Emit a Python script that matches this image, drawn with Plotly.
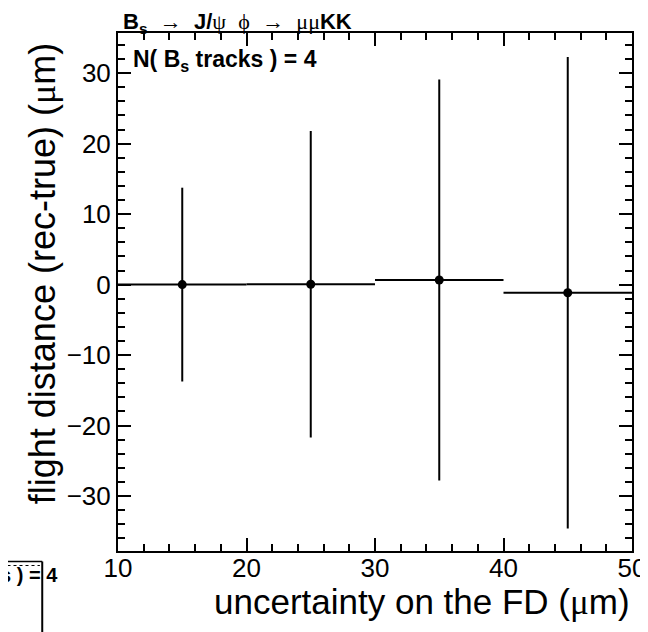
import plotly.graph_objects as go

# values
fd_unc = [15, 25, 35, 45]          # bin centres, uncertainty on FD (um)
bin_half = [5, 5, 5, 5]            # half bin widths
fd_res = [0.0, 0.05, 0.65, -1.15]  # mean rec-true (um)
fd_err = [13.75, 21.75, 28.45, 33.45]

x_range = [10, 50]
y_range = [-37.8, 35.7]

font = "Liberation Sans, Arial, Helvetica, sans-serif"
greek = "font-family:'Liberation Serif', 'DejaVu Serif', serif"


def g(s):
    return f"<span style=\"{greek}\">{s}</span>"


fig = go.Figure()
fig.add_trace(go.Scatter(
    x=fd_unc, y=fd_res, mode="markers",
    marker=dict(color="black", size=9),
    error_x=dict(type="data", array=bin_half, color="black", thickness=2, width=0),
    error_y=dict(type="data", array=fd_err, color="black", thickness=2, width=0),
    showlegend=False,
))

axis = dict(
    showline=True, linecolor="black", linewidth=2, mirror="ticks",
    ticks="inside", ticklen=13, tickwidth=1.5, tickcolor="black",
    showgrid=False, zeroline=False, automargin=False,
    tickfont=dict(family=font, size=26, color="black"),
    minor=dict(ticks="inside", ticklen=7, tickwidth=1.5, tickcolor="black", dtick=2),
)

# the page sits 8px in from the top left corner, so the figure is
# drawn 8px smaller and the margins are shifted to match
fig.update_layout(
    width=640, height=624,
    margin=dict(l=110, r=16, t=25, b=81),
    paper_bgcolor="white", plot_bgcolor="white",
    xaxis=dict(axis, range=x_range, dtick=10, ticklabelstandoff=-7),
    yaxis=dict(axis, range=y_range, dtick=10),
    font=dict(family=font, color="black"),
)

# axis titles, right aligned as in ROOT
fig.add_annotation(
    text="uncertainty on the FD (" + g("μ") + "m)",
    xref="paper", yref="paper", x=1.0, y=-0.0985,
    xanchor="right", yanchor="middle", showarrow=False,
    font=dict(family=font, size=35, color="black"),
)
fig.add_annotation(
    text="flight distance (rec-true) (" + g("μ") + "m)",
    xref="paper", yref="paper", x=-0.147, y=0.984, textangle=-90,
    xanchor="center", yanchor="top", showarrow=False,
    font=dict(family=font, size=36, color="black"),
)

# decay title above the frame
fig.add_annotation(
    text="<b>B<sub>s</sub></b>  " + g("→") + "  <b>J/</b>" + g("ψ") + "  " + g("ϕ")
         + "  " + g("→") + "  " + g("μμ") + "<b>KK</b>",
    xref="paper", yref="paper", x=0.005, y=1.019,
    xanchor="left", yanchor="middle", showarrow=False,
    font=dict(family=font, size=22, color="black"),
)
fig.add_annotation(
    text="<b>N( B<sub>s</sub> tracks ) = 4</b>",
    xref="paper", yref="paper", x=0.026, y=0.946,
    xanchor="left", yanchor="middle", showarrow=False,
    font=dict(family=font, size=23, color="black"),
)

# clipped label box from a neighbouring pad, bottom left
fig.add_shape(type="line", xref="paper", yref="paper",
              x0=-0.25, x1=-0.1474, y0=-0.0203, y1=-0.0203,
              line=dict(color="black", width=1.5))
fig.add_shape(type="line", xref="paper", yref="paper",
              x0=-0.1474, x1=-0.1474, y0=-0.0203, y1=-0.17,
              line=dict(color="black", width=2))
fig.add_shape(type="line", xref="paper", yref="paper",
              x0=-0.25, x1=-0.152, y0=-0.028, y1=-0.028,
              line=dict(color="black", width=1, dash="dot"))
fig.add_annotation(
    text="<b>s ) = 4</b>",
    xref="paper", yref="paper", x=-0.1138, y=-0.046,
    xanchor="right", yanchor="middle", showarrow=False,
    font=dict(family=font, size=20, color="black"),
)

fig.write_html("out.html")
